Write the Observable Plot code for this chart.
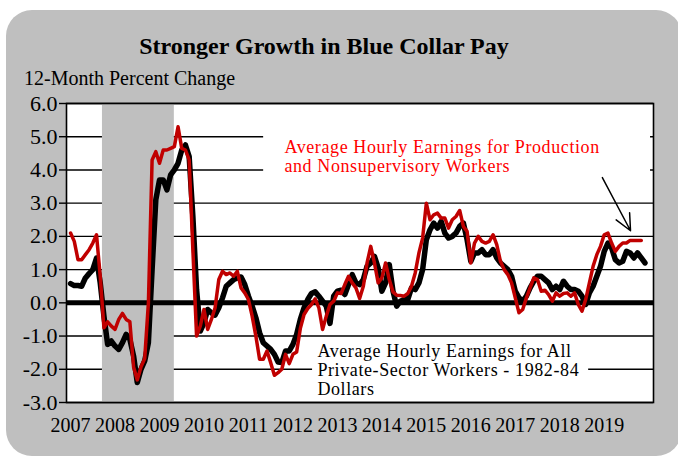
<!DOCTYPE html>
<html>
<head>
<meta charset="utf-8">
<script src="https://cdn.jsdelivr.net/npm/d3@7"></script>
<script src="https://cdn.jsdelivr.net/npm/@observablehq/plot@0.6"></script>
<style>
html, body { margin: 0; padding: 0; background: #fff; overflow: hidden; }
#wrap { position: relative; width: 678px; height: 460px; font-family: "Liberation Serif", "Times New Roman", serif; }
#panel { position: absolute; left: 6px; top: 10px; width: 676px; height: 446px; background: #bfbfbf; border-radius: 26px; }
#title { position: absolute; left: 0; top: 34px; width: 648px; text-align: center; font-size: 24px; line-height: 24px; font-weight: bold; color: #000; }
#subtitle { position: absolute; left: 24px; top: 68px; font-size: 20px; line-height: 20px; color: #000; }
#chart { position: absolute; left: 0; top: 0; }
</style>
</head>
<body>
<div id="wrap">
  <div id="panel"></div>
  <div id="chart"></div>
  <div id="title">Stronger Growth in Blue Collar Pay</div>
  <div id="subtitle">12-Month Percent Change</div>
</div>
<script>
// Month index 0 = January 2007
const startYear = 2007;
const yearTicks = [0, 12, 24, 36, 48, 60, 72, 84, 96, 108, 120, 132, 144];
const yTicks = [-3, -2, -1, 0, 1, 2, 3, 4, 5, 6];

// Average Hourly Earnings, All Private-Sector Workers, 1982-84 dollars (12-month % change)
const allWorkers = [
  0.58, 0.52, 0.52, 0.50, 0.75, 0.88, 1.00, 1.35, 0.60, -0.40, -1.25, -1.15,
  -1.30, -1.40, -1.20, -0.95, -1.10, -1.60, -2.40, -2.00, -1.75, -1.20, 1.00, 3.10,
  3.70, 3.70, 3.40, 3.85, 4.00, 4.20, 4.60, 4.75, 4.40, 2.60, 0.40, -0.85,
  -0.60, -0.20, -0.30, -0.37, -0.15, 0.15, 0.50, 0.60, 0.70, 0.75, 0.78, 0.55,
  0.20, -0.10, -0.45, -0.90, -1.20, -1.30, -1.40, -1.55, -1.78, -1.80, -1.45, -1.45,
  -1.25, -0.95, -0.50, -0.15, 0.10, 0.28, 0.33, 0.20, 0.05, -0.10, -0.62, 0.20,
  0.35, 0.38, 0.25, 0.55, 0.85, 0.60, 0.55, 0.70, 1.10, 1.20, 1.40, 1.05,
  0.35, 0.60, 1.15, 0.35, -0.10, 0.05, 0.10, 0.10, 0.45, 0.40, 0.60, 1.00,
  1.90, 2.20, 2.40, 2.25, 2.45, 2.10, 1.95, 2.00, 2.10, 2.30, 2.40, 1.90,
  1.25, 1.50, 1.50, 1.60, 1.45, 1.45, 1.60, 1.35, 1.20, 1.10, 1.00, 0.80,
  0.35, 0.15, 0.05, 0.20, 0.45, 0.65, 0.80, 0.80, 0.70, 0.60, 0.40, 0.50,
  0.40, 0.65, 0.50, 0.40, 0.40, 0.35, 0.20, -0.05, 0.30, 0.50, 0.80, 1.10,
  1.55, 1.80, 1.65, 1.30, 1.20, 1.25, 1.55, 1.50, 1.35, 1.50, 1.35, 1.20
];

// Average Hourly Earnings, Production and Nonsupervisory Workers (12-month % change)
const production = [
  2.10, 1.85, 1.30, 1.30, 1.45, 1.60, 1.80, 2.05, 0.80, -0.75, -0.57, -0.70,
  -0.80, -0.50, -0.32, -0.50, -0.57, -1.93, -2.32, -1.93, -1.68, 0.00, 4.30, 4.55,
  4.20, 4.60, 4.60, 4.65, 4.70, 5.30, 4.65, 4.60, 4.30, 1.60, -1.00, -0.70,
  -0.20, -0.80, -0.50, -0.15, 0.70, 0.95, 0.85, 0.90, 0.80, 0.95, 0.45, 0.30,
  0.10, -0.40, -1.00, -1.70, -1.70, -1.45, -1.80, -2.18, -2.10, -2.00, -1.55, -1.83,
  -1.55, -1.48, -0.77, -0.35, -0.17, -0.05, 0.12, -0.15, -0.80, -0.40, -0.05, 0.05,
  0.30, 0.28, 0.55, 0.80, 0.60, 0.45, 0.13, 0.50, 1.20, 1.70, 1.20, 0.60,
  0.75, 1.20, 0.70, 0.33, 0.23, 0.22, 0.20, 0.28, 0.50, 0.90, 1.50, 1.95,
  3.00, 2.50, 2.65, 2.70, 2.55, 2.55, 2.25, 2.50, 2.60, 2.78, 2.30, 2.15,
  1.20, 1.80, 2.00, 1.85, 1.80, 1.85, 2.05, 1.75, 1.25, 1.00, 0.85, 0.60,
  0.15, -0.30, -0.20, 0.15, 0.45, 0.75, 0.70, 0.35, 0.38, 0.25, 0.05, 0.30,
  0.20, 0.28, 0.30, 0.20, 0.30, -0.05, -0.25, 0.10, 0.60, 1.10, 1.45, 1.70,
  2.05, 2.10, 1.80, 1.55, 1.70, 1.80, 1.80, 1.88, 1.88, 1.88, 1.88
];

// Recession shading as drawn (month index)
const recession = [{start: 8.6, end: 28.0}];

// Label texts and anchors (data coordinates)
const labels = [
  {i: 57.7, v: 4.9, text: "Average Hourly Earnings for Production\nand Nonsupervisory Workers", color: "#ff0000"},
  {i: 66.6, v: -1.24, text: "Average Hourly Earnings for All\nPrivate-Sector Workers - 1982-84\nDollars", color: "#000000"}
];
const labelBoxes = [
  {i1: 52.1, i2: 156.5, v1: 3.55, v2: 5.3},
  {i1: 65.3, i2: 139.8, v1: -2.97, v2: -1.12}
];
const arrows = [{i1: 143.5, v1: 3.77, i2: 151.1, v2: 2.17}];

const black = allWorkers.map((v, i) => ({i, v}));
const red = production.map((v, i) => ({i, v}));

const chart = Plot.plot({
  width: 678,
  height: 460,
  marginLeft: 66,
  marginRight: 25,
  marginTop: 103,
  marginBottom: 58,
  style: {background: "transparent", fontFamily: "'Liberation Serif', 'Times New Roman', serif", color: "#000", overflow: "visible"},
  x: {domain: [-1.1, 157.3]},
  y: {domain: [-3, 6]},
  marks: [
    Plot.frame({fill: "white"}),
    Plot.ruleY(yTicks.filter(d => d !== 0), {stroke: "black", strokeWidth: 1.4}),
    Plot.rect(recession, {x1: "start", x2: "end", fill: "#bfbfbf"}),
    Plot.rect(labelBoxes, {x1: "i1", x2: "i2", y1: "v1", y2: "v2", fill: "white"}),
    Plot.ruleY([0], {stroke: "black", strokeWidth: 5}),
    Plot.line(black, {x: "i", y: "v", stroke: "black", strokeWidth: 5.5, strokeLinejoin: "round"}),
    Plot.line(red, {x: "i", y: "v", stroke: "#c00000", strokeWidth: 3.5, strokeLinejoin: "round"}),
    Plot.text(labels, {x: "i", y: "v", text: "text", fill: "color", textAnchor: "start", lineAnchor: "top", fontSize: 18, lineHeight: 1.05}),
    Plot.arrow(arrows, {x1: "i1", y1: "v1", x2: "i2", y2: "v2", stroke: "black", strokeWidth: 1.5, headLength: 18, headAngle: 50}),
    Plot.frame({stroke: "black", strokeWidth: 1.6}),
    Plot.axisY({ticks: yTicks, tickSize: 7, tickPadding: 2, fontSize: 22, tickFormat: d => d.toFixed(1), label: null, stroke: "black", strokeWidth: 1.4}),
    Plot.axisX({ticks: yearTicks, tickSize: 0, tickPadding: 15, fontSize: 20, tickFormat: d => String(startYear + d / 12), label: null})
  ]
});
document.getElementById("chart").appendChild(chart);
d3.select(chart).selectAll('g[aria-label="text"] text').style("letter-spacing", "0.6px");
</script>
</body>
</html>
